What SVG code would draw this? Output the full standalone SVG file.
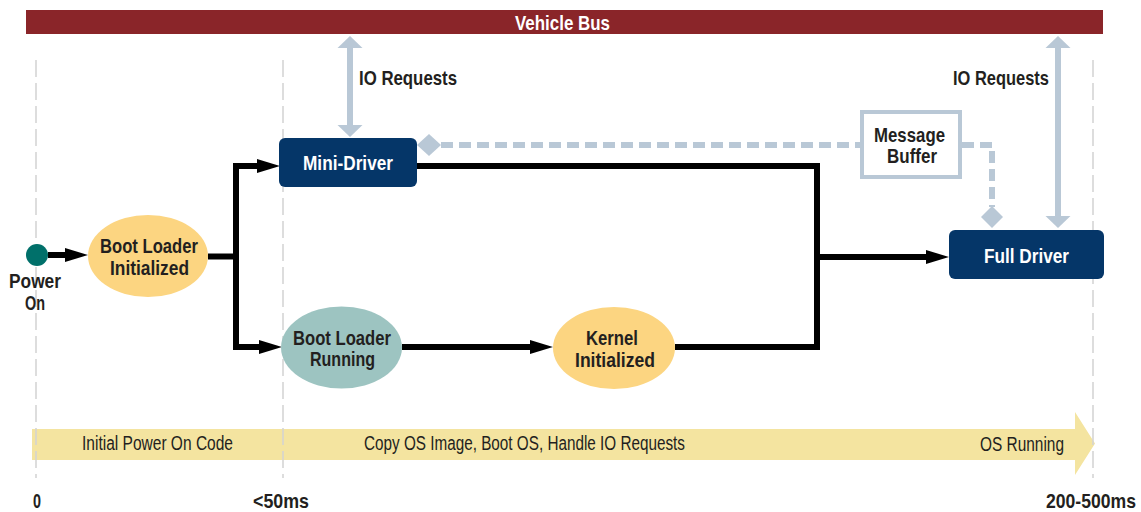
<svg xmlns="http://www.w3.org/2000/svg" width="1141" height="512" viewBox="0 0 1141 512">
  <style>
    .lbl { font-family: "Liberation Sans Narrow", "Liberation Sans", "DejaVu Sans Condensed", sans-serif; font-weight: bold; font-size: 21px; fill: #231f20; }
    .inv { fill: #ffffff; }
    .band { font-family: "Liberation Sans Narrow", "Liberation Sans", "DejaVu Sans Condensed", sans-serif; font-weight: normal; font-size: 20px; fill: #231f20; }
    .guide { stroke: #d2d2d2; stroke-width: 1.5; stroke-dasharray: 17 6; fill: none; }
    .flow { stroke: #000000; stroke-width: 6; fill: none; stroke-linejoin: miter; }
    .io { stroke: #b9c8d6; stroke-width: 6; fill: none; }
    .msg { stroke: #b9c8d6; stroke-width: 6; fill: none; stroke-dasharray: 12 6; }
    .driver { fill: #053668; }
    .amber { fill: #fcd581; }
    .teal { fill: #9dc4c1; }
  </style>
  <defs>
    <marker id="flowHead" markerUnits="userSpaceOnUse" markerWidth="24" markerHeight="16" viewBox="0 -8 24 16" refX="0" refY="0" orient="auto">
      <path d="M0,-7 L23,0 L0,7 z" fill="#000000"/>
    </marker>
    <marker id="ioHead" markerUnits="userSpaceOnUse" markerWidth="14" markerHeight="28" viewBox="0 -14 14 28" refX="0" refY="0" orient="auto-start-reverse">
      <path d="M0,-12.5 L12,0 L0,12.5 z" fill="#b9c8d6"/>
    </marker>
  </defs>

  <!-- timeline band -->
  <g id="timeline">
    <path d="M32,429 H1075 V412 L1095,443.5 L1075,475 V460 H32 z" fill="#f4e4a0"/>
    <text class="band" x="82" y="450" textLength="151" lengthAdjust="spacingAndGlyphs">Initial Power On Code</text>
    <text class="band" x="364" y="450" textLength="321" lengthAdjust="spacingAndGlyphs">Copy OS Image, Boot OS, Handle IO Requests</text>
    <text class="band" x="980" y="451" textLength="84" lengthAdjust="spacingAndGlyphs">OS Running</text>
  </g>

  <!-- time guides -->
  <g id="guides">
    <line class="guide" x1="36" y1="60" x2="36" y2="478"/>
    <line class="guide" x1="283" y1="60" x2="283" y2="478"/>
    <line class="guide" x1="1093" y1="60" x2="1093" y2="478"/>
    <text class="lbl" x="33" y="508" textLength="8" lengthAdjust="spacingAndGlyphs">0</text>
    <text class="lbl" x="253" y="508" textLength="56" lengthAdjust="spacingAndGlyphs">&lt;50ms</text>
    <text class="lbl" x="1136" y="508" text-anchor="end" textLength="90" lengthAdjust="spacingAndGlyphs">200-500ms</text>
  </g>

  <!-- bus -->
  <g id="vehicle-bus">
    <rect x="26" y="10" width="1077" height="24" fill="#8a2529"/>
    <text class="lbl inv" x="515" y="30" textLength="95" lengthAdjust="spacingAndGlyphs">Vehicle Bus</text>
  </g>

  <!-- connectors -->
  <g id="connectors">
    <line class="io" x1="350" y1="48" x2="350" y2="125" marker-start="url(#ioHead)" marker-end="url(#ioHead)"/>
    <line class="io" x1="1058" y1="48" x2="1058" y2="216" marker-start="url(#ioHead)" marker-end="url(#ioHead)"/>
    <text class="lbl" x="359" y="85" textLength="98" lengthAdjust="spacingAndGlyphs">IO Requests</text>
    <text class="lbl" x="953" y="85" textLength="96" lengthAdjust="spacingAndGlyphs">IO Requests</text>

    <path class="msg" d="M441,145 H862"/>
    <path class="msg" d="M962,145 H992 V207"/>
    <path d="M417,145 L429,134 L441,145 L429,156 z" fill="#b9c8d6"/>
    <path d="M981,217 L992,206 L1003,217 L992,228 z" fill="#b9c8d6"/>

    <path class="flow" d="M48,255 H65" marker-end="url(#flowHead)"/>
    <path class="flow" d="M208,256.5 H236"/>
    <path class="flow" d="M257,166 H236 V347 H259"/>
    <path class="flow" d="M236,166 H257" marker-end="url(#flowHead)"/>
    <path class="flow" d="M236,347 H259" marker-end="url(#flowHead)"/>
    <path class="flow" d="M402,347 H530" marker-end="url(#flowHead)"/>
    <path class="flow" d="M417,166 H817 V347 H675"/>
    <path class="flow" d="M817,257 H926" marker-end="url(#flowHead)"/>
  </g>

  <!-- nodes -->
  <g id="power-on">
    <circle cx="37" cy="255" r="11" fill="#00706a"/>
    <text class="lbl" x="9" y="288" textLength="52" lengthAdjust="spacingAndGlyphs">Power</text>
    <text class="lbl" x="25" y="310" textLength="20" lengthAdjust="spacingAndGlyphs">On</text>
  </g>

  <g id="boot-loader-initialized">
    <ellipse class="amber" cx="148" cy="256" rx="60" ry="41"/>
    <text class="lbl" x="100" y="253" textLength="98" lengthAdjust="spacingAndGlyphs">Boot Loader</text>
    <text class="lbl" x="110" y="275" textLength="79" lengthAdjust="spacingAndGlyphs">Initialized</text>
  </g>

  <g id="mini-driver">
    <rect class="driver" x="279" y="138" width="138" height="49" rx="6"/>
    <text class="lbl inv" x="303" y="170" textLength="90" lengthAdjust="spacingAndGlyphs">Mini-Driver</text>
  </g>

  <g id="boot-loader-running">
    <ellipse class="teal" cx="341.5" cy="347.5" rx="60.5" ry="41"/>
    <text class="lbl" x="293" y="345" textLength="98" lengthAdjust="spacingAndGlyphs">Boot Loader</text>
    <text class="lbl" x="310" y="366" textLength="65" lengthAdjust="spacingAndGlyphs">Running</text>
  </g>

  <g id="kernel-initialized">
    <ellipse class="amber" cx="614" cy="348" rx="61" ry="41"/>
    <text class="lbl" x="586" y="345" textLength="52" lengthAdjust="spacingAndGlyphs">Kernel</text>
    <text class="lbl" x="575" y="367" textLength="80" lengthAdjust="spacingAndGlyphs">Initialized</text>
  </g>

  <g id="message-buffer">
    <rect x="862" y="112" width="98" height="65" fill="#ffffff" stroke="#b9c8d6" stroke-width="4"/>
    <text class="lbl" x="874" y="142" textLength="71" lengthAdjust="spacingAndGlyphs">Message</text>
    <text class="lbl" x="887" y="163" textLength="50" lengthAdjust="spacingAndGlyphs">Buffer</text>
  </g>

  <g id="full-driver">
    <rect class="driver" x="949" y="230" width="155" height="49" rx="6"/>
    <text class="lbl inv" x="984" y="263" textLength="85" lengthAdjust="spacingAndGlyphs">Full Driver</text>
  </g>
</svg>
